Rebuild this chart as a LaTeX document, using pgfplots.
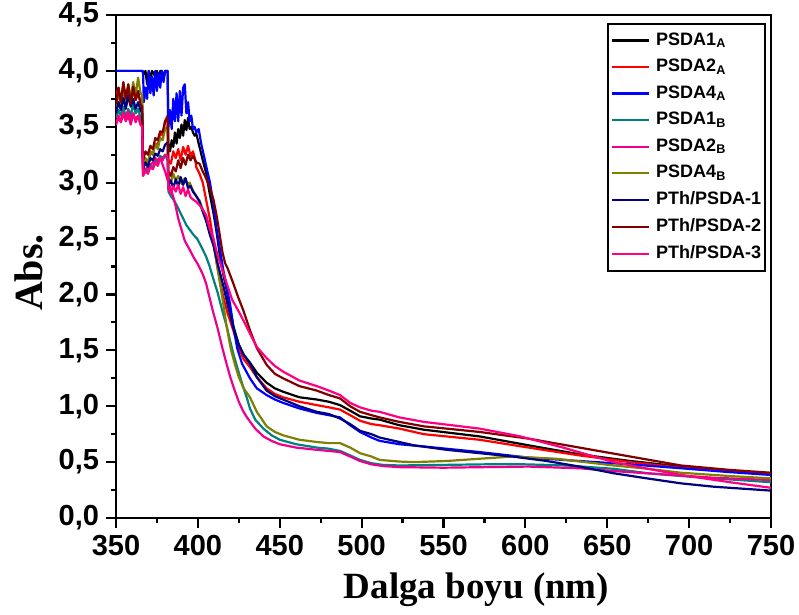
\documentclass[border=0pt]{standalone}
\usepackage{fontspec}
\setmainfont{Liberation Sans}
\newfontfamily\serifface{Liberation Serif}
\usepackage{pgfplots}
\pgfplotsset{compat=1.18}
\definecolor{cteal}{RGB}{0,128,128}
\definecolor{colive}{RGB}{128,128,0}
\definecolor{cnavy}{RGB}{0,0,128}
\definecolor{cmaroon}{RGB}{128,0,0}
\definecolor{chotpink}{RGB}{255,0,128}
\newcommand\tickfont{\fontsize{14.5bp}{17bp}\selectfont\bfseries}
\newcommand\xlabfont{\serifface\fontsize{18.5bp}{21bp}\selectfont\bfseries}
\newcommand\ylabfont{\serifface\fontsize{20bp}{23bp}\selectfont\bfseries}
\newcommand\legfont{\fontsize{9bp}{10.5bp}\selectfont\bfseries}
\begin{document}
\begin{tikzpicture}
\useasboundingbox (-58bp,-48.5bp) rectangle (341.5bp,259bp);
\begin{axis}[
  scale only axis, width=327.5bp, height=251.5bp,
  at={(0,0)}, anchor=south west,
  xmin=350, xmax=750, ymin=0, ymax=4.5,
  xtick={350,400,...,750}, ytick={0,0.5,...,4.5},
  minor x tick num=1, minor y tick num=1,
  tick align=outside, tick pos=left,
  major tick length=5bp, minor tick length=2.5bp,
  every tick/.style={black, line width=1.1bp},
  axis line style={line width=1.25bp},
  /pgf/number format/assume math mode=true,
  ticklabel style={font=\tickfont},
  x tick label style={/pgf/number format/1000 sep={}},
  y tick label style={/pgf/number format/.cd, fixed, fixed zerofill, precision=1, use comma},
  xlabel={Dalga boyu (nm)}, ylabel={Abs.},
  xlabel style={font=\xlabfont, at={(axis description cs:0.5,0)}, anchor=base, yshift=-40bp, xshift=16.5bp},
  ylabel style={font=\ylabfont, at={(axis description cs:-0.1336,0.488)}, anchor=center},
  every axis plot/.append style={line width=1.1bp, line join=round},
  legend image code/.code={\draw[#1] (0bp,0bp) -- (18.5bp,0bp);},
  legend cell align=left,
  legend style={at={(rel axis cs:1,1)}, anchor=north east, xshift=-2.5bp, yshift=-4bp,
    draw=black, line width=0.75bp, font=\legfont, inner xsep=1.5bp, inner ysep=2.5bp,
    row sep=1.5bp, nodes={inner xsep=0.5bp},
    /tikz/every odd column/.append style={column sep=2.5bp}},
]
% PSDA1_A
\addplot[black] coordinates {
(350,4.0)(366,4.0)(367,3.97)(368,4.0)(369,3.88)(370,4.0)(371,3.92)(372,4.0)(374,3.95)(375,4.0)(376,3.9)(377,4.0)(378,4.0)(379,3.93)(380,4.0)(381.5,4.0)
(382,3.35)(383,3.28)(384,3.38)(385,3.32)(386,3.45)(387,3.35)(388,3.48)(389,3.40)(390,3.52)(391,3.42)(392,3.56)(393,3.47)(394,3.58)(395,3.48)(396,3.50)(397,3.45)(398,3.42)(399,3.44)(400,3.38)(401,3.32)(403,3.2)(405,3.09)(407,2.92)(409.5,2.73)(411.5,2.55)(413.5,2.34)(415.5,2.18)(417.6,2.04)(419.6,1.88)(421.6,1.72)(425,1.55)(428,1.46)(431.8,1.39)(436,1.30)(442,1.21)(447,1.16)(452,1.13)(462,1.08)(472.6,1.06)(480,1.04)(486.8,1.01)(493,0.96)(499,0.91)(506,0.89)(511,0.88)(523,0.83)(538,0.79)(572,0.73)(602,0.65)(633,0.57)(664,0.51)(695,0.46)(725,0.42)(750,0.39)};
\addlegendentry{PSDA1\textsubscript{A}}
% PSDA2_A
\addplot[red] coordinates {
(350,3.78)(351.5,3.85)(353,3.72)(354.5,3.88)(356,3.75)(357.5,3.86)(359,3.70)(360.5,3.84)(362,3.74)(363.5,3.80)(365,3.72)(366,3.70)(366.5,3.12)(368,3.20)(369.5,3.15)(371,3.28)(372.5,3.25)(374,3.35)(375.5,3.33)(377,3.45)(378.5,3.42)(380,3.55)(381.5,3.60)
(382,3.20)(383.5,3.17)(385,3.28)(386.5,3.22)(388,3.30)(389.5,3.20)(391,3.32)(392.5,3.25)(394,3.33)(395.5,3.24)(397,3.28)(398.5,3.20)(399,3.14)(401,3.08)(403,3.0)(405,2.85)(407.4,2.67)(409.5,2.48)(411.5,2.28)(413.5,2.12)(415.5,1.98)(418,1.84)(421.6,1.68)(425,1.52)(428,1.42)(431.8,1.35)(436,1.26)(442,1.16)(447,1.11)(452,1.08)(462,1.04)(472.6,1.01)(480,0.99)(486.8,0.97)(493,0.92)(499,0.87)(506,0.84)(511,0.83)(523,0.80)(538,0.75)(572,0.70)(602,0.63)(633,0.56)(664,0.50)(695,0.45)(725,0.42)(750,0.40)};
\addlegendentry{PSDA2\textsubscript{A}}
% PSDA4_A
\addplot[blue] coordinates {
(350,4.0)(366.5,4.0)(367,3.72)(368,3.85)(369,3.75)(370,4.0)(371,3.80)(372,3.95)(373,3.78)(374,4.0)(375,3.82)(376,3.98)(377,3.85)(378,4.0)(379,3.90)(380,4.0)(381.5,4.0)
(382,3.5)(383,3.65)(384,3.48)(385,3.75)(386,3.55)(387,3.80)(388,3.55)(389,3.82)(390,3.60)(391,3.85)(392,3.88)(393,3.62)(394,3.72)(395,3.55)(396,3.60)(397,3.48)(398,3.50)(399,3.45)(400.5,3.48)(402,3.35)(404,3.22)(405.5,3.12)(407.4,3.0)(409.5,2.80)(411.5,2.58)(413.5,2.40)(415.5,2.22)(417.6,2.06)(419.6,1.92)(421.6,1.72)(424,1.52)(427,1.38)(431.8,1.25)(436,1.16)(442,1.10)(447,1.06)(452,1.03)(462,0.98)(472.6,0.94)(480,0.92)(486.8,0.90)(493,0.83)(499,0.77)(506,0.72)(511,0.69)(523,0.66)(538,0.64)(572,0.59)(602,0.54)(633,0.51)(664,0.48)(695,0.445)(725,0.41)(750,0.385)};
\addlegendentry{PSDA4\textsubscript{A}}
% PSDA1_B
\addplot[cteal] coordinates {
(350,3.58)(351.5,3.65)(353,3.60)(354.5,3.68)(356,3.58)(357.5,3.66)(359,3.60)(360.5,3.70)(362,3.62)(363.5,3.66)(365,3.58)(366,3.55)(366.5,3.08)(368,3.12)(369.5,3.10)(371,3.15)(372.5,3.14)(374,3.20)(375.5,3.18)(377,3.24)(378.5,3.22)(380,3.25)(381.5,3.20)
(382,2.92)(383.5,2.88)(385,2.85)(387,2.80)(389,2.74)(391,2.68)(393,2.62)(395,2.58)(397.5,2.53)(399.5,2.50)(402,2.43)(405,2.34)(407,2.26)(409,2.16)(412,2.02)(415,1.85)(417.5,1.72)(419.6,1.59)(422,1.45)(425,1.30)(427.5,1.18)(429.8,1.08)(431.8,0.98)(435,0.88)(440,0.80)(445,0.74)(450,0.70)(460,0.66)(472.6,0.63)(480,0.62)(486.8,0.60)(493,0.56)(499,0.52)(506,0.49)(513,0.475)(523,0.47)(550,0.475)(575,0.48)(600,0.48)(625,0.47)(654,0.44)(675,0.40)(700,0.37)(725,0.345)(750,0.32)};
\addlegendentry{PSDA1\textsubscript{B}}
% PSDA2_B
\addplot[magenta] coordinates {
(350,3.52)(351.5,3.58)(353,3.54)(354.5,3.62)(356,3.55)(357.5,3.60)(359,3.52)(360.5,3.62)(362,3.56)(363.5,3.60)(365,3.52)(366,3.50)(366.5,3.10)(368,3.12)(369.5,3.14)(371,3.16)(372.5,3.18)(374,3.22)(375.5,3.20)(377,3.22)(378.5,3.16)(380,3.10)(382,3.0)(384,2.92)(386,2.82)(388,2.68)(390,2.58)(392,2.48)(395,2.40)(397.5,2.33)(400,2.27)(403,2.18)(405,2.10)(407,1.98)(409,1.86)(412,1.70)(415,1.52)(417.5,1.38)(420,1.25)(422.5,1.14)(425,1.04)(427.5,0.96)(430,0.90)(435,0.80)(440,0.73)(445,0.69)(450,0.66)(460,0.63)(472.6,0.61)(480,0.60)(486.8,0.59)(493,0.55)(499,0.51)(506,0.48)(513,0.465)(523,0.455)(550,0.45)(575,0.455)(602,0.46)(633,0.445)(654,0.42)(674,0.40)(695,0.38)(715,0.36)(750,0.34)};
\addlegendentry{PSDA2\textsubscript{B}}
% PSDA4_B
\addplot[colive] coordinates {
(350,3.68)(351.5,3.80)(353,3.70)(354.5,3.85)(356,3.72)(357.5,3.88)(359,3.75)(360.5,3.90)(362,3.78)(363.5,3.94)(365,3.80)(366,3.78)(366.5,3.15)(368,3.22)(369.5,3.18)(371,3.28)(372.5,3.25)(374,3.35)(375.5,3.30)(377,3.40)(378.5,3.38)(380,3.48)(381.5,3.50)
(382,3.05)(383.5,3.00)(385,3.08)(386.5,3.02)(388,3.06)(390,2.99)(392,3.04)(394,2.98)(395,3.00)(397,2.93)(399,2.88)(401,2.84)(403,2.76)(405,2.68)(407.4,2.58)(409.5,2.45)(411.5,2.28)(413.5,2.10)(415.5,1.92)(417.5,1.72)(420,1.52)(422.5,1.38)(425,1.26)(428,1.16)(431.8,1.08)(436,0.95)(442,0.82)(447,0.77)(452,0.74)(462,0.70)(472.6,0.68)(480,0.67)(486.8,0.67)(493,0.63)(499,0.58)(506,0.55)(511,0.52)(523,0.505)(532,0.50)(552,0.51)(572,0.53)(592,0.55)(619,0.53)(654,0.47)(675,0.44)(695,0.405)(725,0.375)(750,0.355)};
\addlegendentry{PSDA4\textsubscript{B}}
% PTh/PSDA-1
\addplot[cnavy] coordinates {
(350,3.62)(351.5,3.72)(353,3.65)(354.5,3.76)(356,3.66)(357.5,3.78)(359,3.68)(360.5,3.75)(362,3.66)(363.5,3.72)(365,3.65)(366,3.62)(366.5,3.12)(368,3.18)(369.5,3.14)(371,3.22)(372.5,3.20)(374,3.26)(375.5,3.24)(377,3.30)(378.5,3.28)(380,3.34)(381.5,3.36)
(382,2.98)(383.5,3.02)(385,2.95)(386.5,3.03)(388,2.97)(389.5,3.05)(391,2.98)(392.5,3.04)(394,2.95)(395.5,2.97)(397,2.92)(399,2.88)(401,2.83)(403,2.74)(405,2.66)(407.4,2.53)(409.5,2.44)(412,2.28)(415.5,2.08)(418,1.92)(420,1.80)(421.6,1.70)(425,1.55)(428,1.46)(431.8,1.38)(436,1.26)(442,1.14)(447,1.09)(452,1.06)(462,1.00)(472.6,0.95)(480,0.93)(486.8,0.89)(493,0.84)(499,0.78)(506,0.75)(511,0.72)(523,0.68)(532,0.65)(552,0.61)(572,0.58)(592,0.55)(613,0.51)(633,0.46)(654,0.40)(674,0.355)(695,0.31)(715,0.28)(750,0.245)};
\addlegendentry{PTh/PSDA-1}
% PTh/PSDA-2
\addplot[cmaroon] coordinates {
(350,3.70)(351.5,3.85)(353,3.72)(354.5,3.90)(356,3.75)(357.5,3.88)(359,3.70)(360.5,3.86)(362,3.74)(363.5,3.82)(365,3.70)(366,3.68)(366.5,3.20)(368,3.28)(369.5,3.25)(371,3.33)(372.5,3.30)(374,3.40)(375.5,3.38)(377,3.46)(378.5,3.45)(380,3.55)(381.5,3.58)
(382,3.10)(383.5,3.06)(385,3.14)(386.5,3.10)(388,3.20)(389.5,3.13)(391,3.22)(392.5,3.16)(394,3.25)(395.5,3.20)(397,3.24)(399,3.18)(401,3.17)(403,3.10)(405,3.04)(407.4,2.95)(409.5,2.85)(411.5,2.70)(413.5,2.52)(415,2.38)(416.6,2.28)(418,2.24)(421.6,2.10)(424.5,1.98)(427.7,1.86)(431.8,1.68)(436,1.52)(442,1.37)(447,1.29)(452,1.25)(462,1.18)(472.6,1.14)(480,1.10)(486.8,1.07)(493,1.00)(499,0.95)(506,0.92)(511,0.90)(523,0.86)(538,0.82)(572,0.77)(602,0.71)(633,0.63)(664,0.55)(695,0.47)(725,0.43)(750,0.405)};
\addlegendentry{PTh/PSDA-2}
% PTh/PSDA-3
\addplot[chotpink] coordinates {
(350,3.52)(351.5,3.60)(353,3.55)(354.5,3.63)(356,3.56)(357.5,3.64)(359,3.55)(360.5,3.62)(362,3.54)(363.5,3.60)(365,3.52)(366,3.50)(366.5,3.06)(368,3.10)(369.5,3.08)(371,3.14)(372.5,3.12)(374,3.18)(375.5,3.15)(377,3.22)(378.5,3.20)(380,3.25)(381.5,3.24)
(382,2.95)(383.5,2.90)(385,2.97)(386.5,2.92)(388,2.98)(389.5,2.90)(391,2.96)(392.5,2.88)(394,2.94)(395.5,2.87)(397,2.85)(399,2.83)(401,2.80)(403,2.76)(405,2.71)(407,2.60)(409.5,2.50)(412,2.35)(415,2.22)(418,2.08)(421,1.95)(424.5,1.86)(427.7,1.77)(431.8,1.65)(436,1.53)(442,1.43)(447,1.36)(452,1.31)(462,1.23)(472.6,1.18)(480,1.14)(486.8,1.10)(493,1.03)(499,0.99)(506,0.96)(511,0.95)(523,0.90)(538,0.86)(572,0.80)(597,0.73)(623,0.63)(654,0.50)(675,0.44)(695,0.385)(725,0.32)(750,0.27)};
\addlegendentry{PTh/PSDA-3}
\end{axis}
\end{tikzpicture}
\end{document}
